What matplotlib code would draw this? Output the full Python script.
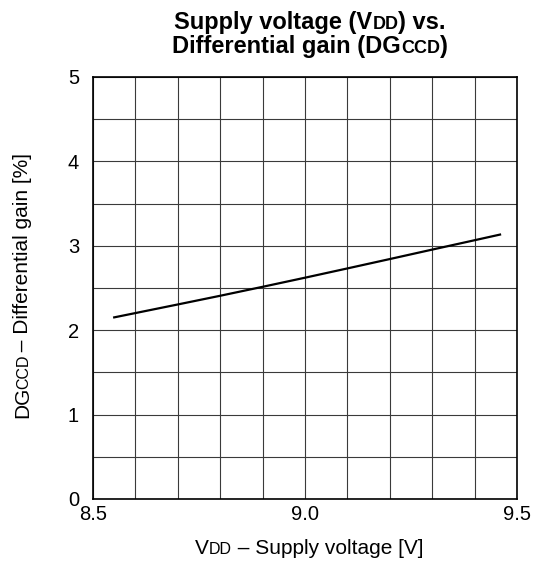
import numpy as np
import matplotlib
matplotlib.use("Agg")
import matplotlib.pyplot as plt
import matplotlib.transforms as mtransforms

plt.rcParams['font.family'] = ['Liberation Sans', 'DejaVu Sans']

# Data
vdd = [8.55, 8.6, 8.7, 8.8, 8.9, 9.0, 9.1, 9.2, 9.3, 9.4, 9.46]
dg_ccd = [2.152, 2.203, 2.305, 2.408, 2.514, 2.622, 2.732, 2.843, 2.955, 3.066, 3.133]

x_major = [8.5, 9.0, 9.5]
x_labels = ["8.5", "9.0", "9.5"]
y_major = [0, 1, 2, 3, 4, 5]

W, H = 539, 563
fig = plt.figure(figsize=(W / 100, H / 100), dpi=100)
ax = fig.add_axes([93 / W, 1 - 499 / H, (517 - 93) / W, (499 - 77) / H])

ax.plot(vdd, dg_ccd, color="black", lw=1.6, zorder=3, solid_joinstyle="round")

ax.set_xlim(8.5, 9.5)
ax.set_ylim(0, 5)
ax.set_xticks(x_major)
ax.set_xticklabels(x_labels)
ax.set_xticks(np.arange(8.5, 9.51, 0.1), minor=True)
ax.set_yticks(y_major)
ax.set_yticks(np.arange(0, 5.01, 0.5), minor=True)
ax.tick_params(which="both", length=0, labelsize=14.5)
ax.tick_params(axis="y", pad=10)
ax.tick_params(axis="x", pad=4)
ax.grid(which="both", color="#3a3a3a", lw=0.8)
for sp in ax.spines.values():
    sp.set_linewidth(1.2)
    sp.set_zorder(4)

renderer = fig.canvas.get_renderer()
ident = mtransforms.IdentityTransform()


def seg_len(s, fs, weight):
    # advance of a segment, guard characters keep the spaces counted
    a = fig.text(0, 0, "|" + s + "|", fontsize=fs, weight=weight)
    b = fig.text(0, 0, "||", fontsize=fs, weight=weight)
    w = a.get_window_extent(renderer).width - b.get_window_extent(renderer).width
    a.remove()
    b.remove()
    return w


def rich(parts, cx, cy, rotation=0, weight="normal", fudge=0.0):
    # cx, cy: centre of the run along its direction, at the baseline (pixels from top-left)
    lens = [seg_len(s, fs, weight) + fudge for s, fs in parts]
    total = sum(lens)
    pos = -total / 2
    for (s, fs), L in zip(parts, lens):
        if rotation == 0:
            x, y = cx + pos, H - cy
        else:
            x, y = cx, H - cy + pos
        fig.text(x, y, s, fontsize=fs, weight=weight, rotation=rotation,
                 rotation_mode="anchor", ha="left", va="baseline", transform=ident)
        pos += L


big_t, small_t = 17, 13
rich([("Supply voltage (V", big_t), ("DD", small_t), (") vs.", big_t)], 310, 29, weight="bold")
rich([("Differential gain (DG", big_t), ("CCD", small_t), (")", big_t)], 310, 53, weight="bold")

big, small = 15, 11.5
rich([("V", big), ("DD", small), (" \u2013 Supply voltage [V]", big)], 309, 554)
rich([("DG", big), ("CCD", small), (" \u2013 Differential gain [%]", big)], 28, 287,
     rotation=90, fudge=-2.5)

fig.savefig("out.png", dpi=100)
